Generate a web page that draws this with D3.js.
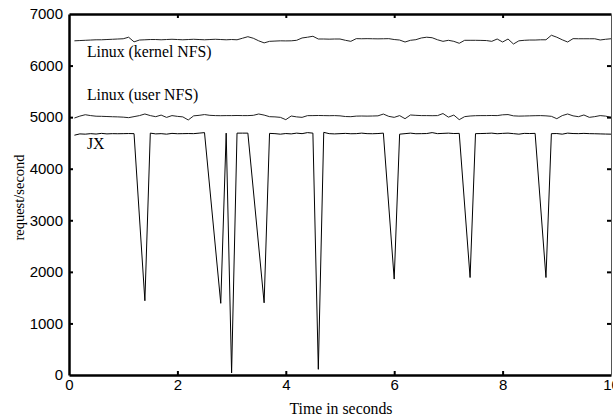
<!DOCTYPE html>
<html>
<head>
<meta charset="utf-8">
<script src="https://cdn.jsdelivr.net/npm/d3@7"></script>
<style>
  body { margin: 0; background: #fff; }
  svg { display: block; font-family: "Liberation Serif", "Times New Roman", serif; }
  .axis text { font-size: 15px; fill: #000; }
</style>
</head>
<body>
<div id="chart"></div>
<script>
// time axis in seconds, one sample every 0.1 s for the Linux runs
const linuxTimes = [
  0.1, 0.2, 0.3, 0.4, 0.5, 0.6, 0.7, 0.8, 0.9, 1.0,
  1.1, 1.2, 1.3, 1.4, 1.5, 1.6, 1.7, 1.8, 1.9, 2.0,
  2.1, 2.2, 2.3, 2.4, 2.5, 2.6, 2.7, 2.8, 2.9, 3.0,
  3.1, 3.2, 3.3, 3.4, 3.5, 3.6, 3.7, 3.8, 3.9, 4.0,
  4.1, 4.2, 4.3, 4.4, 4.5, 4.6, 4.7, 4.8, 4.9, 5.0,
  5.1, 5.2, 5.3, 5.4, 5.5, 5.6, 5.7, 5.8, 5.9, 6.0,
  6.1, 6.2, 6.3, 6.4, 6.5, 6.6, 6.7, 6.8, 6.9, 7.0,
  7.1, 7.2, 7.3, 7.4, 7.5, 7.6, 7.7, 7.8, 7.9, 8.0,
  8.1, 8.2, 8.3, 8.4, 8.5, 8.6, 8.7, 8.8, 8.9, 9.0,
  9.1, 9.2, 9.3, 9.4, 9.5, 9.6, 9.7, 9.8, 9.9, 10.0
];

const kernelNfs = [
  6480, 6485, 6490, 6495, 6500, 6500, 6505, 6510, 6515, 6520,
  6550, 6460, 6495, 6500, 6505, 6505, 6500, 6505, 6510, 6505,
  6500, 6505, 6510, 6505, 6500, 6505, 6510, 6505, 6500, 6505,
  6500, 6530, 6560, 6530, 6480, 6440, 6470, 6475, 6480, 6478,
  6480, 6490, 6535, 6550, 6568, 6515, 6515, 6512, 6515, 6515,
  6490, 6470, 6522, 6520, 6522, 6520, 6518, 6520, 6522, 6505,
  6495, 6457, 6490, 6502, 6535, 6550, 6540, 6500, 6470, 6490,
  6470, 6432, 6490, 6490, 6490, 6488, 6485, 6470, 6515, 6457,
  6515, 6418, 6480, 6490, 6495, 6495, 6500, 6500, 6588, 6550,
  6500, 6457, 6522, 6520, 6520, 6520, 6520, 6496, 6510, 6520
];

const userNfs = [
  4983, 5020, 5047, 5030, 5018, 5016, 5012, 5008, 5005, 5000,
  4990, 5010, 5030, 5061, 5030, 5009, 5040, 4995, 5030, 5015,
  5005, 4945, 5025, 5035, 5050, 5035, 5030, 5028, 5030, 5030,
  5032, 5030, 5030, 5035, 5061, 5040, 5009, 5005, 4996, 4951,
  5022, 5005, 4996, 5029, 5030, 5032, 5030, 5028, 5030, 5025,
  5012, 5009, 5020, 5022, 5020, 5022, 5025, 5060, 5015, 4996,
  5030, 4970, 5042, 5035, 5030, 5030, 5028, 5030, 5070, 5000,
  5040, 4951, 5010, 5022, 5028, 5030, 5030, 5032, 5030, 5045,
  5050, 5025, 5020, 5022, 5025, 5028, 5030, 5025, 5016, 4970,
  5030, 5061, 5025, 5009, 5042, 4996, 5010, 5030, 5020, 4996
];

// JX run: only the samples visible as corners in the plot
const jxTimes = [
  0.1, 0.2, 0.3, 0.4, 0.5, 0.6, 0.7, 0.8, 0.9, 1.0, 1.1, 1.2,
  1.4,
  1.5, 1.6, 1.7, 1.8, 1.9, 2.0, 2.1, 2.2, 2.3, 2.4, 2.5,
  2.8, 2.9, 3.0, 3.1, 3.2, 3.3,
  3.6,
  3.7, 3.8, 3.9, 4.0, 4.1, 4.2, 4.3, 4.4, 4.5,
  4.6,
  4.7, 4.8, 4.9, 5.0, 5.1, 5.2, 5.3, 5.4, 5.5, 5.6, 5.7, 5.8,
  6.0,
  6.1, 6.2, 6.3, 6.4, 6.5, 6.6, 6.7, 6.8, 6.9, 7.0, 7.1, 7.2,
  7.4,
  7.5, 7.6, 7.7, 7.8, 7.9, 8.0, 8.1, 8.2, 8.3, 8.4, 8.5, 8.6,
  8.8,
  8.9, 9.0, 9.1, 9.2, 9.3, 9.4, 9.5, 9.6, 9.7, 9.8, 9.9, 10.0
];

const jx = [
  4650, 4675, 4670, 4680, 4672, 4685, 4675, 4680, 4678, 4680, 4682, 4680,
  1440,
  4690, 4675, 4680, 4670, 4685, 4678, 4680, 4682, 4680, 4690, 4700,
  1390, 4690, 40, 4690, 4690, 4690,
  1400,
  4685, 4680, 4670, 4682, 4675, 4690, 4680, 4700, 4690,
  110,
  4705, 4680, 4675, 4680, 4685, 4678, 4680, 4690, 4680, 4678, 4682, 4690,
  1860,
  4670, 4680, 4690, 4678, 4680, 4682, 4700, 4680, 4685, 4690, 4682, 4685,
  1890,
  4680, 4682, 4685, 4690, 4678, 4685, 4690, 4680, 4670, 4685, 4682, 4685,
  1890,
  4680, 4682, 4670, 4690, 4682, 4680, 4685, 4680, 4678, 4675, 4672, 4670
];

const xTicks = [0, 2, 4, 6, 8, 10];
const yTicks = [0, 1000, 2000, 3000, 4000, 5000, 6000, 7000];

const seriesLabels = [
  { text: "Linux (kernel NFS)", t: 0.33, v: 6170 },
  { text: "Linux (user NFS)", t: 0.33, v: 5330 },
  { text: "JX", t: 0.33, v: 4375 }
];

const W = 613, H = 419;
const margin = { top: 14, right: 2, bottom: 44, left: 69 },
      width = W - margin.left - margin.right,
      height = H - margin.top - margin.bottom;

const svg = d3.select("#chart")
  .append("svg")
  .attr("width", W)
  .attr("height", H)
  .append("g")
  .attr("transform", "translate(" + margin.left + "," + margin.top + ")");

const x = d3.scaleLinear().domain([0, 10]).range([0, width]);
const y = d3.scaleLinear().domain([0, 7000]).range([height, 0]);

// lines
const line = d3.line()
  .x(d => x(d[0]))
  .y(d => y(d[1]));

const series = [
  { data: linuxTimes.map((t, i) => [t, kernelNfs[i]]), color: "#222" },
  { data: linuxTimes.map((t, i) => [t, userNfs[i]]), color: "#222" },
  { data: jxTimes.map((t, i) => [t, jx[i]]), color: "#000" }
];

svg.selectAll(".series")
  .data(series)
  .enter()
  .append("path")
  .attr("class", "series")
  .attr("fill", "none")
  .attr("stroke", d => d.color)
  .attr("stroke-width", 1)
  .attr("stroke-linejoin", "miter")
  .attr("d", d => line(d.data));

// axes, ticks point inward
const axisB = svg.append("g")
  .attr("class", "axis x")
  .attr("transform", "translate(0," + height + ")")
  .call(d3.axisBottom(x).tickValues(xTicks).tickFormat(d3.format("d"))
    .tickSizeInner(-4).tickSizeOuter(0).tickPadding(4));

const axisL = svg.append("g")
  .attr("class", "axis y")
  .call(d3.axisLeft(y).tickValues(yTicks).tickFormat(d3.format("d"))
    .tickSizeInner(-4).tickSizeOuter(0).tickPadding(6));

const axisT = svg.append("g")
  .attr("class", "axis t")
  .call(d3.axisTop(x).tickValues(xTicks.slice(1, -1)).tickFormat("")
    .tickSizeInner(-4).tickSizeOuter(0));

const axisR = svg.append("g")
  .attr("class", "axis r")
  .attr("transform", "translate(" + width + ",0)")
  .call(d3.axisRight(y).tickValues(yTicks.slice(1, -1)).tickFormat("")
    .tickSizeInner(-4).tickSizeOuter(0));

svg.selectAll(".axis .tick line")
  .attr("stroke", "#000")
  .attr("stroke-width", 2);
[axisB, axisL, axisT].forEach(g => g.select(".domain")
  .attr("stroke", "#000").attr("stroke-width", 2.5));
axisR.select(".domain").attr("stroke", "#555").attr("stroke-width", 1);
axisB.selectAll(".tick line").filter(d => d === 0 || d === 10).remove();
axisL.selectAll(".tick line").filter(d => d === 0 || d === 7000).remove();

// series labels
svg.selectAll(".label")
  .data(seriesLabels)
  .enter()
  .append("text")
  .attr("class", "label")
  .attr("x", d => x(d.t))
  .attr("y", d => y(d.v))
  .attr("font-size", "15.8px")
  .attr("fill", "#000")
  .text(d => d.text);

// axis titles
svg.append("text")
  .attr("x", width / 2 + 1)
  .attr("y", height + 39)
  .attr("text-anchor", "middle")
  .attr("font-size", "15.8px")
  .text("Time in seconds");

svg.append("text")
  .attr("transform", "translate(" + (-45) + "," + (height / 2 + 3) + ")rotate(-90)")
  .attr("text-anchor", "middle")
  .attr("font-size", "14.5px")
  .text("request/second");
</script>
</body>
</html>
